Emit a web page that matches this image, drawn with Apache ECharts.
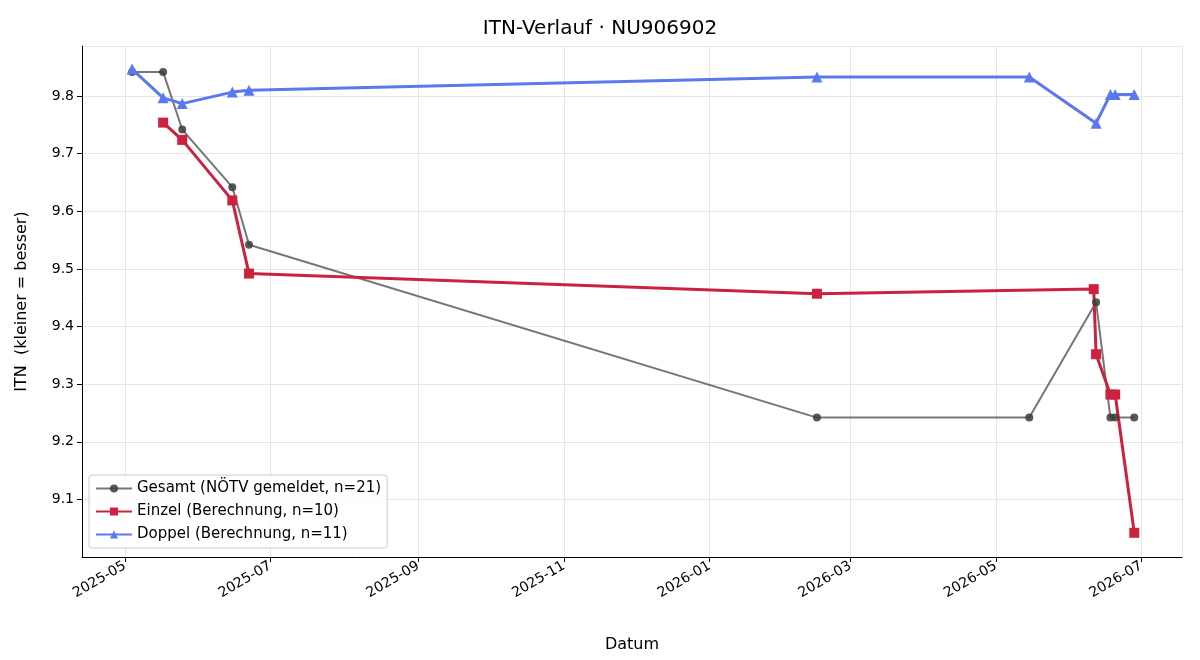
<!DOCTYPE html>
<html><head><meta charset="utf-8">
<script src="https://cdn.jsdelivr.net/npm/echarts@6/dist/echarts.min.js"></script>
<style>html,body{margin:0;padding:0;background:#fff}#c{width:1200px;height:660px}</style>
</head><body><div id="c"></div>
<script>
const gesamtDates = ['2025-05-04','2025-05-17','2025-05-25','2025-06-15','2025-06-22','2026-02-15','2026-05-15','2026-06-12','2026-06-18','2026-06-20','2026-06-28'];
const gesamtValues = [9.8,9.8,9.7,9.6,9.5,9.2,9.2,9.4,9.2,9.2,9.2];
const einzelDates = ['2025-05-17','2025-05-25','2025-06-15','2025-06-22','2026-02-15','2026-06-11','2026-06-12','2026-06-18','2026-06-20','2026-06-28'];
const einzelValues = [9.712,9.682,9.577,9.45,9.415,9.423,9.31,9.24,9.24,9.0];
const doppelDates = ['2025-05-04','2025-05-17','2025-05-25','2025-06-15','2025-06-22','2026-02-15','2026-05-15','2026-06-12','2026-06-18','2026-06-20','2026-06-28'];
const doppelValues = [9.805,9.755,9.745,9.765,9.768,9.791,9.791,9.711,9.761,9.761,9.761];
const tickMonths = ['2025-05','2025-07','2025-09','2025-11','2026-01','2026-03','2026-05','2026-07'];

const pair = (d, v) => d.map((x, i) => [x, v[i]]);
const F = 'DejaVu Sans';
const chart = echarts.init(document.getElementById('c'));
chart.setOption({
  animation: false,
  title: { text: 'ITN-Verlauf · NU906902', left: 'center', top: 14, textStyle: { fontFamily: F, fontSize: 20, fontWeight: 'normal', color: '#000' } },
  grid: { left: 82, right: 18, top: 46, bottom: 103 },
  legend: {
    orient: 'vertical', left: 89, bottom: 112, itemGap: 8,
    backgroundColor: 'rgba(255,255,255,0.8)', borderColor: '#ccc', borderWidth: 1, borderRadius: 3, padding: [6, 6, 6, 6],
    textStyle: { fontFamily: F, fontSize: 15, color: '#000' }, itemWidth: 36, itemHeight: 10
  },
  xAxis: {
    type: 'time',
    min: +new Date('2025-04-13'), max: +new Date('2026-07-18'),
    minInterval: 59 * 86400000, maxInterval: 62 * 86400000,
    axisLine: { lineStyle: { color: '#000' } },
    axisTick: { show: true, lineStyle: { color: '#000' } },
    splitLine: { show: true, lineStyle: { color: '#e6e6e6' } },
    axisLabel: { rotate: 30, fontFamily: F, fontSize: 14, color: '#000', hideOverlap: false,
      formatter: v => { const d = new Date(v); return d.getFullYear() + '-' + String(d.getMonth() + 1).padStart(2, '0'); } },
    name: 'Datum', nameLocation: 'middle', nameGap: 80, nameTextStyle: { fontFamily: F, fontSize: 16, color: '#000' }
  },
  yAxis: {
    type: 'value', min: 8.958, max: 9.845, interval: 0.1,
    axisLine: { show: true, lineStyle: { color: '#000' } },
    axisTick: { show: true, lineStyle: { color: '#000' } },
    splitLine: { show: true, lineStyle: { color: '#e6e6e6' } },
    axisLabel: { fontFamily: F, fontSize: 14, color: '#000', showMinLabel: false, showMaxLabel: false, formatter: v => v.toFixed(1) },
    name: 'ITN  (kleiner = besser)', nameLocation: 'middle', nameGap: 52, nameTextStyle: { fontFamily: F, fontSize: 16, color: '#000' }
  },
  series: [
    { name: 'Gesamt (NÖTV gemeldet, n=21)', type: 'line', data: pair(gesamtDates, gesamtValues), symbol: 'circle', symbolSize: 8,
      lineStyle: { width: 2, color: 'rgba(60,60,60,0.7)' }, itemStyle: { color: 'rgba(60,60,60,0.85)' } },
    { name: 'Einzel (Berechnung, n=10)', type: 'line', data: pair(einzelDates, einzelValues), symbol: 'rect', symbolSize: 10,
      lineStyle: { width: 3, color: '#cc2240' }, itemStyle: { color: '#cc2240' } },
    { name: 'Doppel (Berechnung, n=11)', type: 'line', data: pair(doppelDates, doppelValues), symbol: 'triangle', symbolSize: 11,
      lineStyle: { width: 3, color: '#5a78f0' }, itemStyle: { color: '#5a78f0' } }
  ]
});
</script></body></html>
